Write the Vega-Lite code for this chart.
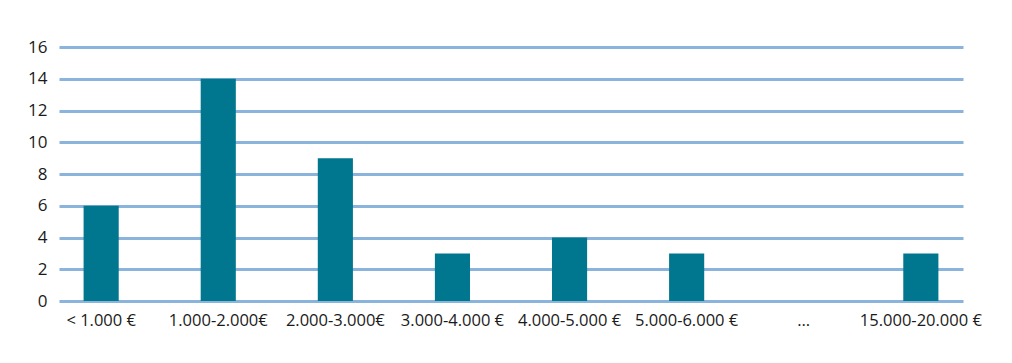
{
  "$schema": "https://vega.github.io/schema/vega-lite/v6.json",
  "width": 904,
  "height": 254,
  "autosize": {"type": "none"},
  "padding": {"left": 59, "top": 47, "right": 49, "bottom": 62},
  "background": "white",
  "data": {
    "values": [
      {"k": "< 1.000 €", "v": 6},
      {"k": "1.000-2.000€", "v": 14},
      {"k": "2.000-3.000€", "v": 9},
      {"k": "3.000-4.000 €", "v": 3},
      {"k": "4.000-5.000 €", "v": 4},
      {"k": "5.000-6.000 €", "v": 3},
      {"k": "…", "v": 0},
      {"k": "15.000-20.000 €", "v": 3}
    ]
  },
  "config": {
    "view": {"stroke": null},
    "font": "Open Sans"
  },
  "mark": {"type": "bar", "color": "#00778f"},
  "encoding": {
    "x": {
      "field": "k",
      "type": "nominal",
      "sort": null,
      "scale": {"paddingInner": 0.7, "paddingOuter": 0.21},
      "axis": {
        "title": null,
        "labelAngle": 0,
        "domain": false,
        "ticks": false,
        "labelFont": "Open Sans",
        "labelFontSize": 16.5,
        "labelColor": "#1a1a1a",
        "labelPadding": 11
      }
    },
    "y": {
      "field": "v",
      "type": "quantitative",
      "scale": {"domain": [0, 16], "nice": false},
      "axis": {
        "title": null,
        "values": [0, 2, 4, 6, 8, 10, 12, 14, 16],
        "domain": false,
        "ticks": false,
        "gridColor": "#8ab4dc",
        "gridWidth": 3,
        "gridOpacity": 1,
        "labelFont": "Open Sans",
        "labelFontSize": 17,
        "labelColor": "#1a1a1a",
        "labelPadding": 12
      }
    }
  }
}
